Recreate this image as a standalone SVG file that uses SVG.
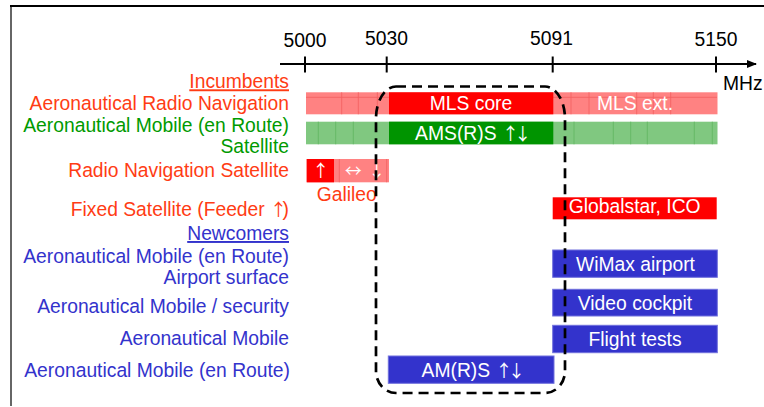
<svg xmlns="http://www.w3.org/2000/svg" width="764" height="407" viewBox="0 0 764 407">
<defs>
<style>
text{font-family:"Liberation Sans",Arial,sans-serif;font-size:19.3px}
.ar{font-family:"Noto Sans CJK JP","DejaVu Sans",sans-serif;font-size:17px;letter-spacing:-4.5px}
.lbl{text-anchor:end}
.inc{fill:#FF3C14}
.grn{fill:#009A00}
.blu{fill:#3333CC}
.num{fill:#000;text-anchor:middle}
.bt{fill:#fff;text-anchor:middle}
.lr{fill:#FF8282}
.dr{fill:#FF0000}
.lg{fill:#80C880}
.dg{fill:#009400}
.bb{fill:#3333CC;stroke:#7070DD;stroke-width:1}
.gr{stroke:#F26060;stroke-width:0.8}
.gg{stroke:#5FB55F;stroke-width:0.8}
.tick{stroke:#000;stroke-width:2}
</style>
<marker id="ah" markerWidth="10" markerHeight="8" refX="9" refY="4" orient="auto" markerUnits="userSpaceOnUse">
<path d="M0,0 L10,4 L0,8 Z" fill="#000"/>
</marker>
</defs>
<rect width="764" height="407" fill="#fff"/>
<g id="frame">
<line x1="11" y1="406" x2="11" y2="6" stroke="#666" stroke-width="2"/>
<line x1="10" y1="6" x2="764" y2="6" stroke="#000" stroke-width="2"/>
</g>
<g id="connectors">
<line x1="280" y1="64" x2="756" y2="64" stroke="#000" stroke-width="2" marker-end="url(#ah)"/>
<line class="tick" x1="305" y1="56.5" x2="305" y2="72.5"/>
<line class="tick" x1="386.7" y1="56.5" x2="386.7" y2="72.5"/>
<line class="tick" x1="552.7" y1="56.5" x2="552.7" y2="72.5"/>
<line class="tick" x1="716" y1="56.5" x2="716" y2="72.5"/>
</g>
<g id="axis-labels">
<text class="num" x="305" y="46.5">5000</text>
<text class="num" x="386.5" y="45">5030</text>
<text class="num" x="551.5" y="45">5091</text>
<text class="num" x="716" y="46">5150</text>
<text x="723" y="90" fill="#000">MHz</text>
</g>
<g id="labels">
<text class="lbl inc" x="289" y="88.3" text-decoration="underline">Incumbents</text>
<text class="lbl inc" x="289" y="110">Aeronautical Radio Navigation</text>
<text class="lbl grn" x="289" y="131.7">Aeronautical Mobile (en Route)</text>
<text class="lbl grn" x="289" y="153.3">Satellite</text>
<text class="lbl inc" x="289" y="177.3">Radio Navigation Satellite</text>
<text class="lbl inc" x="289" y="216">Fixed Satellite (Feeder <tspan class="ar">↑</tspan>)</text>
<text class="lbl blu" x="289" y="240" text-decoration="underline">Newcomers</text>
<text class="lbl blu" x="289" y="263.3">Aeronautical Mobile (en Route)</text>
<text class="lbl blu" x="289" y="284">Airport surface</text>
<text class="lbl blu" x="289" y="312.7">Aeronautical Mobile / security</text>
<text class="lbl blu" x="289" y="345">Aeronautical Mobile</text>
<text class="lbl blu" x="290" y="377.3">Aeronautical Mobile (en Route)</text>
</g>
<g id="arn-band">
<rect class="lr" x="306" y="92.3" width="411.5" height="22"/>
<line class="gr" x1="306" y1="97.3" x2="389" y2="97.3"/>
<line class="gr" x1="553" y1="97.3" x2="717" y2="97.3"/>
<line class="gr" x1="341.7" y1="92.3" x2="341.7" y2="114.3"/>
<line class="gr" x1="358.3" y1="92.3" x2="358.3" y2="114.3"/>
<line class="gr" x1="377.3" y1="92.3" x2="377.3" y2="114.3"/>
<line class="gr" x1="571" y1="92.3" x2="571" y2="114.3"/>
<line class="gr" x1="589" y1="92.3" x2="589" y2="114.3"/>
<line class="gr" x1="636.7" y1="92.3" x2="636.7" y2="114.3"/>
<line class="gr" x1="653.3" y1="92.3" x2="653.3" y2="114.3"/>
<line class="gr" x1="670.7" y1="92.3" x2="670.7" y2="114.3"/>
</g>
<g id="mls-core">
<rect class="dr" x="389" y="92.3" width="164.3" height="22"/>
<text class="bt" x="471" y="110">MLS core</text>
</g>
<g id="mls-ext">
<text class="bt" x="635" y="110">MLS ext.</text>
</g>
<g id="amrs-band">
<rect class="lg" x="306" y="121.7" width="411.5" height="22.6"/>
<line class="gg" x1="318.3" y1="121.7" x2="318.3" y2="144.3"/>
<line class="gg" x1="335.7" y1="121.7" x2="335.7" y2="144.3"/>
<line class="gg" x1="353.3" y1="121.7" x2="353.3" y2="144.3"/>
<line class="gg" x1="574" y1="121.7" x2="574" y2="144.3"/>
<line class="gg" x1="613.3" y1="121.7" x2="613.3" y2="144.3"/>
<line class="gg" x1="630.7" y1="121.7" x2="630.7" y2="144.3"/>
<line class="gg" x1="647.3" y1="121.7" x2="647.3" y2="144.3"/>
<line class="gg" x1="694.3" y1="121.7" x2="694.3" y2="144.3"/>
<line class="gg" x1="712.3" y1="121.7" x2="712.3" y2="144.3"/>
</g>
<g id="amsrs">
<rect class="dg" x="389" y="121.7" width="164.3" height="22.6"/>
<text class="bt" x="471" y="140">AMS(R)S <tspan class="ar">↑↓</tspan></text>
</g>
<g id="galileo">
<rect class="lr" x="306.7" y="159" width="82.3" height="23.3"/>
<rect class="dr" x="306.7" y="159" width="27.3" height="23.3"/>
<line class="gr" x1="339.3" y1="159" x2="339.3" y2="182.3"/>
<line class="gr" x1="386.7" y1="159" x2="386.7" y2="182.3"/>
<text class="bt ar" x="318.5" y="177">↑</text>
<text class="bt ar" x="351" y="177">↔</text>
<text class="bt ar" x="374.5" y="177">↓</text>
<text class="inc" x="316.7" y="201">Galileo</text>
</g>
<g id="globalstar">
<rect class="dr" x="552.7" y="197.3" width="164" height="22"/>
<text class="bt" x="634.7" y="213.3">Globalstar, ICO</text>
</g>
<g id="wimax">
<rect class="bb" x="552.7" y="250" width="164.6" height="27.3"/>
<text class="bt" x="635.5" y="271">WiMax airport</text>
</g>
<g id="video">
<rect class="bb" x="552.7" y="289.3" width="164.6" height="26.7"/>
<text class="bt" x="635" y="310">Video cockpit</text>
</g>
<g id="flight">
<rect class="bb" x="552.7" y="325.3" width="164.6" height="27.4"/>
<text class="bt" x="635" y="346">Flight tests</text>
</g>
<g id="amrs">
<rect class="bb" x="388.3" y="356" width="165.7" height="27.3"/>
<text class="bt" x="471" y="376.7">AM(R)S <tspan class="ar">↑↓</tspan></text>
</g>
<g id="core-region">
<path d="M396,86.5 H545 A20,32 0 0 1 565,118.5 V371 A20,22 0 0 1 545,393 H396 A20,22 0 0 1 376,371 V118.5 A20,32 0 0 1 396,86.5 Z" fill="none" stroke="#000" stroke-width="2.7" stroke-dasharray="10 6"/>
</g>
</svg>
